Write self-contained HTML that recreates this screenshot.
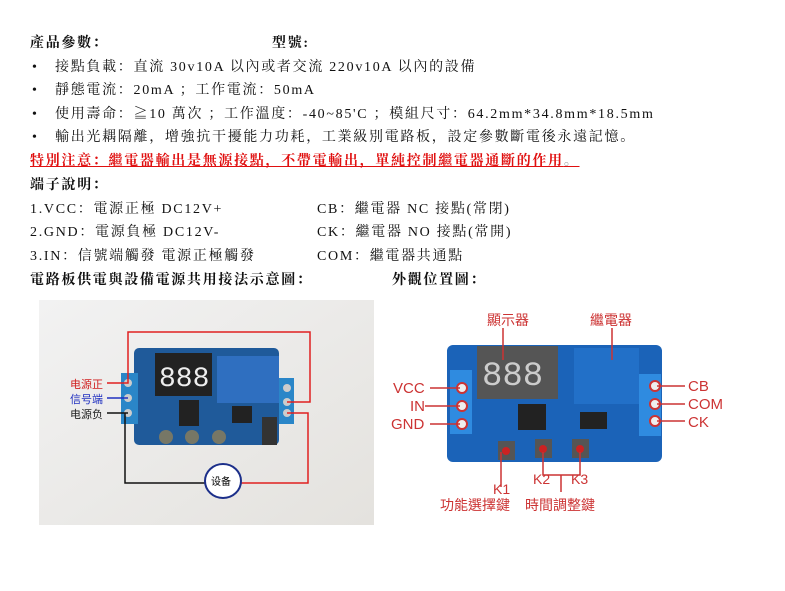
<!DOCTYPE html>
<html><head><meta charset="utf-8"><style>
body{margin:0;width:785px;height:591px;background:#fff;position:relative;overflow:hidden;font-family:"Liberation Serif","Noto Serif CJK SC","Noto Sans CJK TC",serif;color:#111}
.t{position:absolute;font-size:14px;line-height:16px;white-space:nowrap;letter-spacing:1.7px}
.b{font-weight:bold}
</style></head><body>
<div class="t b" style="left:30px;top:36px">產品參數：</div>
<div class="t b" style="left:272px;top:36px">型號:</div>
<div class="t" style="left:32px;top:60px">•</div><div class="t" style="left:55px;top:60px">接點負載：直流 30v10A 以內或者交流 220v10A 以內的設備</div>
<div class="t" style="left:32px;top:83px">•</div><div class="t" style="left:55px;top:83px">靜態電流：20mA ；工作電流：50mA</div>
<div class="t" style="left:32px;top:107px">•</div><div class="t" style="left:55px;top:107px">使用壽命：≧10 萬次 ；工作溫度：-40~85'C ；模組尺寸：64.2mm*34.8mm*18.5mm</div>
<div class="t" style="left:32px;top:130px">•</div><div class="t" style="left:55px;top:130px">輸出光耦隔離，增強抗干擾能力功耗，工業級別電路板，設定參數斷電後永遠記憶。</div>
<div class="t b" style="left:30px;top:154px;color:#e01010;text-decoration:underline">特別注意：繼電器輸出是無源接點，不帶電輸出，單純控制繼電器通斷的作用<span style="color:#999;text-decoration:none;font-weight:normal">。</span></div>
<div class="t b" style="left:30px;top:178px">端子說明：</div>
<div class="t" style="left:30px;top:202px">1.VCC：電源正極 DC12V+</div>
<div class="t" style="left:317px;top:202px">CB：繼電器 NC 接點(常閉)</div>
<div class="t" style="left:30px;top:225px">2.GND：電源負極 DC12V-</div>
<div class="t" style="left:317px;top:225px">CK：繼電器 NO 接點(常開)</div>
<div class="t" style="left:30px;top:249px">3.IN：信號端觸發 電源正極觸發</div>
<div class="t" style="left:317px;top:249px">COM：繼電器共通點</div>
<div class="t b" style="left:30px;top:273px">電路板供電與設備電源共用接法示意圖：</div>
<div class="t b" style="left:392px;top:273px">外觀位置圖：</div>

<!-- left photo -->
<svg style="position:absolute;left:39px;top:300px" width="335" height="225">
<defs><linearGradient id="g" x1="0" y1="0" x2="1" y2="1"><stop offset="0" stop-color="#f2f2f2"/><stop offset="1" stop-color="#e4e2de"/></linearGradient></defs>
<rect width="335" height="225" fill="url(#g)"/>
<rect x="95" y="48" width="145" height="97" rx="5" fill="#1f5a9a"/>
<rect x="82" y="73" width="17" height="51" fill="#2a86c8"/>
<rect x="240" y="78" width="15" height="46" fill="#2a86c8"/>
<rect x="116" y="53" width="57" height="43" fill="#222"/>
<text x="120" y="86" font-family="Liberation Mono" font-size="28" fill="#eee">888</text>
<rect x="178" y="56" width="62" height="47" fill="#2f6fc0"/>
<rect x="140" y="100" width="20" height="26" fill="#222"/>
<rect x="193" y="106" width="20" height="17" fill="#222"/>
<rect x="223" y="117" width="15" height="28" fill="#333"/>
<circle cx="127" cy="137" r="7" fill="#776"/><circle cx="153" cy="137" r="7" fill="#776"/><circle cx="180" cy="137" r="7" fill="#776"/>
<circle cx="89" cy="83" r="4" fill="#ccc"/><circle cx="89" cy="98" r="4" fill="#ccc"/><circle cx="89" cy="113" r="4" fill="#ccc"/>
<circle cx="248" cy="88" r="4" fill="#ccc"/><circle cx="248" cy="102" r="4" fill="#ccc"/><circle cx="248" cy="113" r="4" fill="#ccc"/>
<polyline points="68,83 89,83 89,32 271,32 271,102 248,102" fill="none" stroke="#e02020" stroke-width="1.5"/>
<polyline points="68,98 89,98" fill="none" stroke="#2030c0" stroke-width="1.5"/>
<polyline points="68,113 89,113 86,113 86,183 167,183" fill="none" stroke="#111" stroke-width="1.5"/>
<polyline points="248,113 269,113 269,183 201,183" fill="none" stroke="#e02020" stroke-width="1.5"/>
<ellipse cx="184" cy="181" rx="18" ry="17" fill="#fff" stroke="#1c2f8a" stroke-width="2"/>
<text x="172" y="185" font-family="Noto Sans CJK SC" font-size="10">设备</text>
<text x="31" y="88" font-family="Noto Sans CJK SC" font-size="11" fill="#d02020">电源正</text>
<text x="31" y="103" font-family="Noto Sans CJK SC" font-size="11" fill="#2030c0">信号端</text>
<text x="31" y="118" font-family="Noto Sans CJK SC" font-size="11" fill="#222">电源负</text>
</svg>

<!-- right photo -->
<svg style="position:absolute;left:385px;top:300px" width="345" height="220">
<rect x="62" y="45" width="215" height="117" rx="6" fill="#1b63b8"/>
<rect x="65" y="70" width="22" height="64" fill="#2f8be0"/>
<rect x="254" y="74" width="22" height="62" fill="#2f8be0"/>
<rect x="92" y="46" width="81" height="53" fill="#555"/>
<text x="97" y="85" font-family="Liberation Mono" font-size="34" fill="#ccc">888</text>
<rect x="189" y="48" width="65" height="56" fill="#2270c8"/>
<rect x="133" y="104" width="28" height="26" fill="#222"/>
<rect x="195" y="112" width="27" height="17" fill="#222"/>
<rect x="113" y="141" width="17" height="19" fill="#555"/><circle cx="121" cy="151" r="4" fill="#c22"/>
<rect x="150" y="139" width="17" height="19" fill="#555"/><circle cx="158" cy="149" r="4" fill="#c22"/>
<rect x="187" y="139" width="17" height="19" fill="#555"/><circle cx="195" cy="149" r="4" fill="#c22"/>
<g fill="#eee" stroke="#c33" stroke-width="2"><circle cx="77" cy="88" r="5"/><circle cx="77" cy="106" r="5"/><circle cx="77" cy="124" r="5"/><circle cx="270" cy="86" r="5"/><circle cx="270" cy="104" r="5"/><circle cx="270" cy="121" r="5"/></g>
<g stroke="#c33" stroke-width="1.5" fill="none">
<line x1="45" y1="88" x2="75" y2="88"/><line x1="40" y1="106" x2="75" y2="106"/><line x1="45" y1="124" x2="75" y2="124"/>
<line x1="272" y1="86" x2="300" y2="86"/><line x1="272" y1="104" x2="300" y2="104"/><line x1="272" y1="121" x2="300" y2="121"/>
<line x1="118" y1="28" x2="118" y2="60"/><line x1="227" y1="28" x2="227" y2="60"/>
<line x1="116" y1="152" x2="116" y2="187"/>
<polyline points="158,152 158,175 195,175 195,152"/><line x1="176" y1="175" x2="176" y2="192"/>
</g>
<g font-family="Liberation Sans,Noto Sans CJK TC,sans-serif" fill="#c33">
<text x="8" y="93" font-size="15">VCC</text><text x="25" y="111" font-size="15">IN</text><text x="6" y="129" font-size="15">GND</text>
<text x="303" y="91" font-size="15">CB</text><text x="303" y="109" font-size="15">COM</text><text x="303" y="127" font-size="15">CK</text>
<text x="102" y="25" font-size="14" font-family="Noto Sans CJK TC">顯示器</text>
<text x="205" y="25" font-size="14" font-family="Noto Sans CJK TC">繼電器</text>
<text x="108" y="194" font-size="14">K1</text><text x="148" y="184" font-size="14">K2</text><text x="186" y="184" font-size="14">K3</text>
<text x="55" y="210" font-size="14" font-family="Noto Sans CJK TC">功能選擇鍵</text>
<text x="140" y="210" font-size="14" font-family="Noto Sans CJK TC">時間調整鍵</text>
</g>
</svg>
</body></html>
